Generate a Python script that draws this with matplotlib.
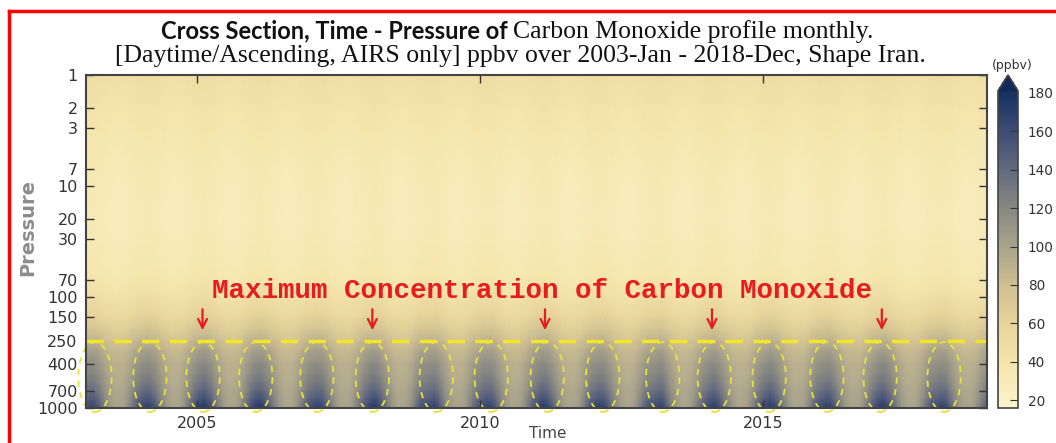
import numpy as np
import matplotlib
matplotlib.use("Agg")
import matplotlib.pyplot as plt
from matplotlib.colors import LinearSegmentedColormap
from matplotlib.patches import Ellipse
from matplotlib.lines import Line2D
from matplotlib import transforms

years = list(range(2003, 2019))
levels = [1, 2, 3, 5, 7, 10, 20, 30, 50, 70, 100, 150, 200, 250, 300, 400, 500, 600, 700, 850, 925, 1000]
# mean profile (ppbv) and how strongly each level follows the near-surface seasonal swing
base_profile = [47, 40, 37, 34, 32, 31, 30, 31, 33, 36, 44, 57, 69, 80, 89, 99, 103, 107, 112, 118, 121, 123]
level_weight = [0.05, 0.05, 0.05, 0.05, 0.05, 0.05, 0.05, 0.05, 0.06, 0.08, 0.1, 0.13, 0.17, 0.22, 0.28, 0.38, 0.46, 0.55, 0.64, 0.82, 0.92, 1.0]
# near-surface CO (ppbv), one row per year, Jan..Dec
co_surface = [
    [162, 168, 162, 146, 126, 110, 102, 100, 103, 116, 136, 154],
    [165, 171, 164, 148, 128, 111, 102, 100, 103, 117, 138, 157],
    [170, 178, 167, 149, 129, 111, 102, 100, 104, 118, 139, 160],
    [172, 175, 164, 146, 127, 110, 101, 99, 103, 117, 137, 155],
    [163, 169, 166, 150, 129, 111, 102, 100, 103, 117, 136, 154],
    [168, 176, 168, 149, 128, 110, 101, 100, 103, 116, 138, 158],
    [160, 166, 169, 152, 130, 111, 102, 100, 103, 117, 137, 152],
    [163, 169, 167, 150, 128, 111, 102, 100, 104, 117, 136, 155],
    [167, 175, 166, 148, 127, 110, 101, 100, 103, 116, 138, 157],
    [165, 171, 165, 147, 127, 110, 102, 100, 103, 117, 137, 155],
    [160, 166, 170, 152, 129, 111, 102, 100, 104, 117, 136, 153],
    [164, 173, 164, 146, 126, 109, 101, 99, 102, 116, 136, 155],
    [166, 174, 165, 148, 127, 110, 101, 100, 103, 116, 137, 156],
    [163, 171, 166, 149, 128, 110, 102, 100, 103, 117, 138, 155],
    [168, 175, 163, 146, 126, 109, 101, 99, 102, 115, 135, 154],
    [160, 166, 168, 151, 129, 111, 102, 100, 103, 116, 135, 151],
]
ellipse_years = [2003.2, 2004.17, 2005.11, 2006.04, 2007.12, 2008.1, 2009.23, 2010.2,
                 2011.19, 2012.17, 2013.23, 2014.14, 2015.11, 2016.13, 2017.07, 2018.2]
arrow_years = [2005.1, 2008.1, 2011.15, 2014.1, 2017.1]
ytick_vals = [1, 2, 3, 7, 10, 20, 30, 70, 100, 150, 250, 400, 700, 1000]
xtick_vals = [2005, 2010, 2015]
cbar_ticks = [20, 40, 60, 80, 100, 120, 140, 160, 180]

surf = np.array(co_surface, dtype=float).ravel()
t = np.array([y + (m + 0.5) / 12 for y in years for m in range(12)])
co = np.array(base_profile)[:, None] + np.array(level_weight)[:, None] * (surf[None, :] - 125)

vmin, vmax = 16, 181
cvals = [16, 40, 60, 80, 100, 120, 140, 160, 181]
ccols = ["#fcf4cc", "#f4e4aa", "#e7d49b", "#cdbf92", "#a9a38c", "#878881", "#636a7f", "#3f4d74", "#15305f"]
cmap = LinearSegmentedColormap.from_list("co", [((v - vmin) / (vmax - vmin), c) for v, c in zip(cvals, ccols)])
cmap.set_over("#102a5a")

fig = plt.figure(figsize=(10.56, 4.43), dpi=100)
ax = fig.add_axes([86 / 1056, 35 / 443, 901 / 1056, 333 / 443])
mesh = ax.pcolormesh(t, levels, co, cmap=cmap, vmin=vmin, vmax=vmax, shading="gouraud", rasterized=True)
ax.set_yscale("log")
ax.set_ylim(1000, 1)
ax.set_xlim(t[0], t[-1])
ax.set_yticks(ytick_vals)
ax.set_yticklabels([str(v) for v in ytick_vals])
ax.yaxis.set_minor_locator(matplotlib.ticker.NullLocator())
ax.set_xticks(xtick_vals)
ax.set_xticklabels([str(v) for v in xtick_vals])
ax.tick_params(direction="in", length=6, width=1, colors="#333333", labelsize=11.5,
               top=True, right=True, pad=6)
for s in ax.spines.values():
    s.set_color("#444444")
    s.set_linewidth(1.5)

ax.axhline(250, color="#f2e62a", lw=2.5, dashes=(5, 3))
trans = transforms.blended_transform_factory(ax.transData, ax.transAxes)
for ex in ellipse_years:
    e = Ellipse((ex, 0.093), 0.59, 0.21, transform=trans, fill=False, ec="#e8e23a",
                lw=1.3, ls=(0, (3.5, 3)), clip_on=False)
    ax.add_patch(e)
for axx in arrow_years:
    ax.annotate("", xy=(axx, 0.225), xytext=(axx, 0.305), xycoords=trans, textcoords=trans,
                arrowprops=dict(arrowstyle="->", color="#e81c1c", lw=1.6, mutation_scale=16))
ax.text((542.5 - 86) / 901, (408 - 291) / 333,
        "Maximum Concentration of Carbon Monoxide", transform=ax.transAxes, ha="center", va="center",
        family="Liberation Mono", weight="bold", fontsize=19.8, color="#e81c1c")

cax = fig.add_axes([998 / 1056, 35 / 443, 20 / 1056, 333 / 443])
cb = fig.colorbar(mesh, cax=cax, extend="max", ticks=cbar_ticks)
cb.outline.set_edgecolor("#444444")
cb.outline.set_linewidth(1.2)
cax.tick_params(direction="in", length=6, colors="#333333", labelsize=9.8, pad=7)
fig.text(1012 / 1056, 1 - 66 / 443, "(ppbv)", ha="center", va="center", fontsize=9, color="#333333")

fig.text(508 / 1056, 1 - 31 / 443, "Cross Section, Time - Pressure of", ha="right", va="center",
         family="Lato", weight="bold", fontsize=17, color="#111111")
fig.text(513 / 1056, 1 - 32 / 443, "Carbon Monoxide profile monthly.", ha="left", va="center",
         family="Liberation Serif", fontsize=18.5, color="#111111")
fig.text(520 / 1056, 1 - 56 / 443, "[Daytime/Ascending, AIRS only] ppbv over 2003-Jan - 2018-Dec, Shape Iran.",
         ha="center", va="center", family="Liberation Serif", fontsize=18.5, color="#111111")
fig.text(28 / 1056, 1 - 227 / 443, "Pressure", rotation=90, ha="center", va="center",
         weight="bold", fontsize=14, color="#8c8c8c")
fig.text(548 / 1056, 1 - 433 / 443, "Time", ha="center", va="center", fontsize=11, color="#444444")

# red frame (top and left edges are visible in the reference)
fig.add_artist(Line2D([9 / 1056, 1], [1 - 11 / 443, 1 - 11 / 443], color="red", lw=2.5))
fig.add_artist(Line2D([9 / 1056, 9 / 1056], [0, 1 - 11 / 443], color="red", lw=2.5))

plt.savefig("out.png", dpi=100)
